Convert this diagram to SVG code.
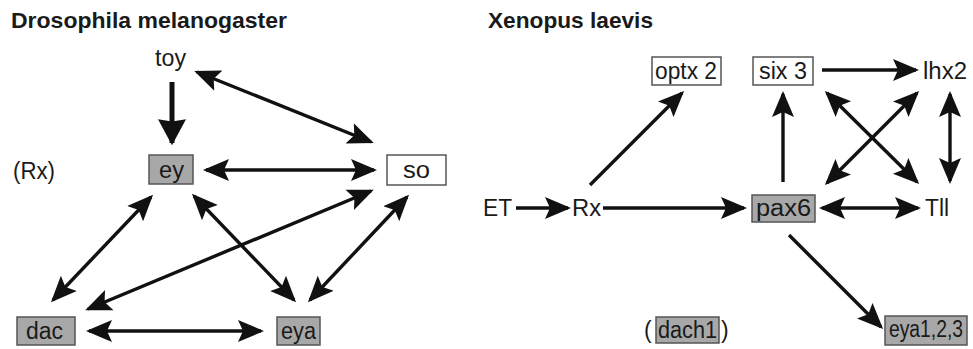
<svg xmlns="http://www.w3.org/2000/svg" width="973" height="349" viewBox="0 0 973 349">
<style>
  text { font-family: "Liberation Sans", Arial, sans-serif; fill: #1a1a1a; font-size: 23px; }
  .title { font-weight: bold; font-size: 22px; }
  .box { stroke: #555; stroke-width: 1.5; }
  .gray { fill: #a8a8a8; }
  .white { fill: #fff; }
  .c { stroke: #111; stroke-width: 3.4; fill: none; }
  .thick { stroke-width: 5; }
</style>
<defs>
  <marker id="ah" markerUnits="userSpaceOnUse" markerWidth="28" markerHeight="24" refX="23" refY="11" orient="auto-start-reverse" viewBox="0 0 28 22">
    <path d="M0,0 L26,11 L0,22 L5,11 z" fill="#111"/>
  </marker>
  <marker id="ahb" markerUnits="userSpaceOnUse" markerWidth="28" markerHeight="28" refX="22" refY="13" orient="auto" viewBox="0 0 26 26">
    <path d="M0,0 L24,13 L0,26 L2,13 z" fill="#111"/>
  </marker>
</defs>

<text class="title" x="11" y="28" textLength="276" lengthAdjust="spacingAndGlyphs">Drosophila melanogaster</text>
<text class="title" x="488" y="28" textLength="165" lengthAdjust="spacingAndGlyphs">Xenopus laevis</text>

<g id="connectors">
  <line class="c thick" x1="172" y1="82" x2="172" y2="143" marker-end="url(#ahb)"/>
  <line class="c" x1="197" y1="72" x2="371" y2="142" marker-start="url(#ah)" marker-end="url(#ah)"/>
  <line class="c" x1="206" y1="170" x2="374" y2="170" marker-start="url(#ah)" marker-end="url(#ah)"/>
  <line class="c" x1="151" y1="197" x2="53" y2="300" marker-start="url(#ah)" marker-end="url(#ah)"/>
  <line class="c" x1="194" y1="196" x2="294" y2="300" marker-start="url(#ah)" marker-end="url(#ah)"/>
  <line class="c" x1="371" y1="191" x2="88" y2="309" marker-start="url(#ah)" marker-end="url(#ah)"/>
  <line class="c" x1="407" y1="197" x2="310" y2="300" marker-start="url(#ah)" marker-end="url(#ah)"/>
  <line class="c" x1="89" y1="331" x2="261" y2="331" marker-start="url(#ah)" marker-end="url(#ah)"/>

  <line class="c" x1="516" y1="208" x2="568" y2="208" marker-end="url(#ah)"/>
  <line class="c" x1="603" y1="208" x2="744" y2="208" marker-end="url(#ah)"/>
  <line class="c" x1="590" y1="185" x2="682" y2="93" marker-end="url(#ah)"/>
  <line class="c" x1="822" y1="70" x2="916" y2="70" marker-end="url(#ah)"/>
  <line class="c" x1="783" y1="182" x2="783" y2="94" marker-end="url(#ah)"/>
  <line class="c" x1="827" y1="93" x2="917" y2="182" marker-start="url(#ah)" marker-end="url(#ah)"/>
  <line class="c" x1="917" y1="93" x2="827" y2="183" marker-start="url(#ah)" marker-end="url(#ah)"/>
  <line class="c" x1="950" y1="94" x2="950" y2="181" marker-start="url(#ah)" marker-end="url(#ah)"/>
  <line class="c" x1="822" y1="208" x2="918" y2="208" marker-start="url(#ah)" marker-end="url(#ah)"/>
  <line class="c" x1="789" y1="235" x2="881" y2="327" marker-end="url(#ah)"/>
</g>

<g id="toy"><text x="155" y="66" textLength="31" lengthAdjust="spacingAndGlyphs">toy</text></g>
<g id="rx-left"><text x="13" y="179" textLength="42" lengthAdjust="spacingAndGlyphs">(Rx)</text></g>
<g id="ey"><rect class="box gray" x="149" y="155" width="44" height="29"/><text x="159" y="178" textLength="25" lengthAdjust="spacingAndGlyphs">ey</text></g>
<g id="so"><rect class="box white" x="387" y="155" width="59" height="30"/><text x="403" y="178" textLength="27" lengthAdjust="spacingAndGlyphs">so</text></g>
<g id="dac"><rect class="box gray" x="17" y="317" width="58" height="28"/><text x="26" y="339" textLength="37" lengthAdjust="spacingAndGlyphs">dac</text></g>
<g id="eya"><rect class="box gray" x="277" y="317" width="43" height="28"/><text x="281" y="339" textLength="35" lengthAdjust="spacingAndGlyphs">eya</text></g>

<g id="optx2"><rect class="box white" x="652" y="57" width="69" height="28"/><text x="655" y="79" textLength="62" lengthAdjust="spacingAndGlyphs">optx 2</text></g>
<g id="six3"><rect class="box white" x="753" y="57" width="60" height="28"/><text x="759" y="79" textLength="48" lengthAdjust="spacingAndGlyphs">six 3</text></g>
<g id="lhx2"><text x="923" y="79" textLength="44" lengthAdjust="spacingAndGlyphs">lhx2</text></g>
<g id="et"><text x="483" y="216" textLength="29" lengthAdjust="spacingAndGlyphs">ET</text></g>
<g id="rx"><text x="572" y="216" textLength="29" lengthAdjust="spacingAndGlyphs">Rx</text></g>
<g id="pax6"><rect class="box gray" x="752" y="195" width="63" height="27"/><text x="756" y="216" textLength="55" lengthAdjust="spacingAndGlyphs">pax6</text></g>
<g id="tll"><text x="925" y="216" textLength="24" lengthAdjust="spacingAndGlyphs">Tll</text></g>
<g id="dach1"><text x="644" y="338">(</text><rect class="box gray" x="656" y="317" width="63" height="26"/><text x="658" y="338" textLength="59" lengthAdjust="spacingAndGlyphs">dach1</text><text x="721" y="338">)</text></g>
<g id="eya123"><rect class="box gray" x="885" y="316" width="82" height="29"/><text x="889" y="337" font-size="19.5" textLength="74" lengthAdjust="spacingAndGlyphs">eya1,2,3</text></g>
</svg>
